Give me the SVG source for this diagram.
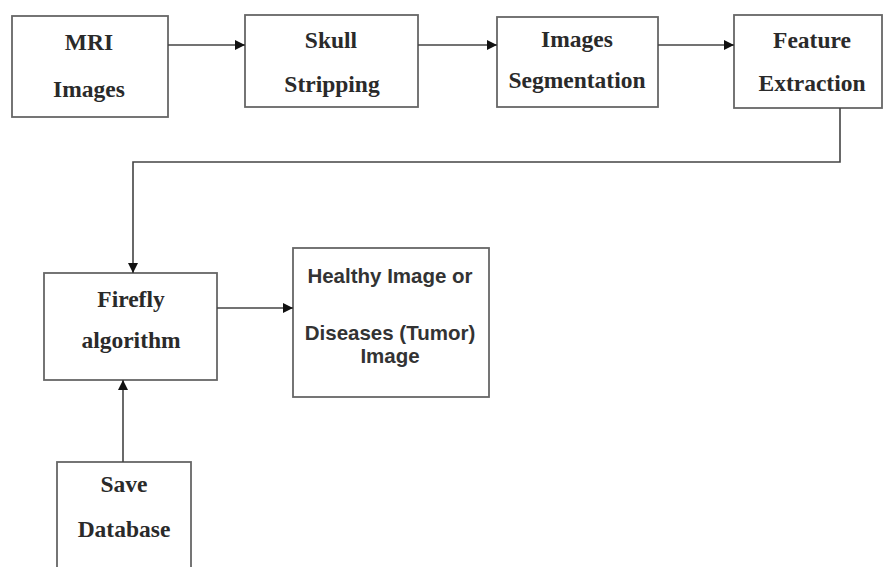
<svg xmlns="http://www.w3.org/2000/svg" width="884" height="567" viewBox="0 0 884 567">
<style>
.box{fill:#fff;stroke:#666;stroke-width:1.8}
.t{font-family:"Liberation Serif","Times New Roman",serif;font-weight:bold;font-size:23.5px;fill:#2a2a2a;text-anchor:middle}
.s{font-family:"Liberation Sans",Arial,sans-serif;font-weight:bold;font-size:20.5px;fill:#333;text-anchor:middle}
.c{fill:none;stroke:#444;stroke-width:1.6}
</style>
<defs>
<marker id="ah" viewBox="0 0 10 10" refX="10" refY="5" markerWidth="10" markerHeight="10" markerUnits="userSpaceOnUse" orient="auto">
<path d="M0,0 L10,5 L0,10 z" fill="#111"/>
</marker>
</defs>
<rect width="884" height="567" fill="#fff"/>
<g id="mri">
<rect class="box" x="12" y="16" width="156" height="101"/>
<text class="t" x="89" y="50">MRI</text>
<text class="t" x="89" y="97">Images</text>
</g>
<g id="skull">
<rect class="box" x="245" y="15" width="173" height="92"/>
<text class="t" x="331" y="48">Skull</text>
<text class="t" x="332" y="92">Stripping</text>
</g>
<g id="segmentation">
<rect class="box" x="497" y="17" width="161" height="90"/>
<text class="t" x="577" y="47" font-size="21">Images</text>
<text class="t" x="577" y="88" font-size="21">Segmentation</text>
</g>
<g id="feature">
<rect class="box" x="734" y="15" width="148" height="93"/>
<text class="t" x="812" y="48">Feature</text>
<text class="t" x="812" y="91">Extraction</text>
</g>
<g id="firefly">
<rect class="box" x="44" y="273" width="173" height="107"/>
<text class="t" x="131" y="307">Firefly</text>
<text class="t" x="131" y="348">algorithm</text>
</g>
<g id="result">
<rect class="box" x="293" y="248" width="196" height="149"/>
<text class="s" x="390" y="283">Healthy Image or</text>
<text class="s" x="390" y="340">Diseases (Tumor)</text>
<text class="s" x="390" y="363">Image</text>
</g>
<g id="database">
<rect class="box" x="57" y="462" width="134" height="120"/>
<text class="t" x="124" y="492">Save</text>
<text class="t" x="124" y="537">Database</text>
</g>
<g id="connectors">
<line class="c" x1="168" y1="45" x2="245" y2="45" marker-end="url(#ah)"/>
<line class="c" x1="418" y1="45" x2="497" y2="45" marker-end="url(#ah)"/>
<line class="c" x1="658" y1="45" x2="734" y2="45" marker-end="url(#ah)"/>
<polyline class="c" points="840,108 840,162 133,162 133,273" marker-end="url(#ah)"/>
<line class="c" x1="217" y1="308" x2="293" y2="308" marker-end="url(#ah)"/>
<line class="c" x1="123" y1="462" x2="123" y2="380" marker-end="url(#ah)"/>
</g>
</svg>
